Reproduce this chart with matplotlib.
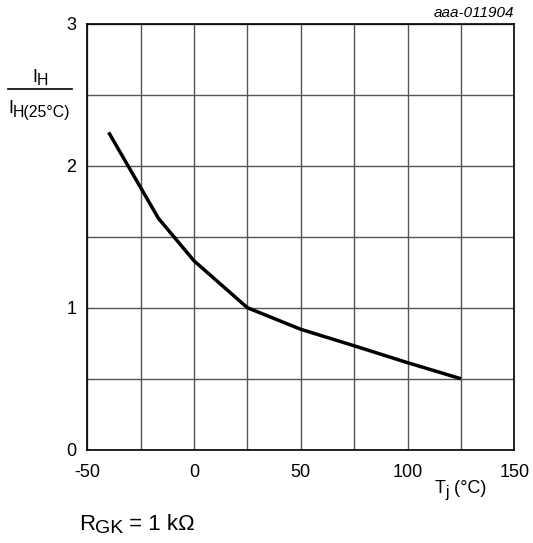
import matplotlib
matplotlib.use('Agg')
import matplotlib.pyplot as plt
from matplotlib.lines import Line2D
from matplotlib.transforms import IdentityTransform

plt.rcParams['font.family'] = ['Liberation Sans', 'DejaVu Sans']
plt.rcParams['axes.unicode_minus'] = False

# Data
tj = [-40, -16.7, 0, 25, 50, 75, 100, 125]
ih_ratio = [2.235, 1.63, 1.33, 1.0, 0.848, 0.732, 0.613, 0.5]

x_ticks = [-50, 0, 50, 100, 150]
y_ticks = [0, 1, 2, 3]

W, H = 533, 543
fig = plt.figure(figsize=(W / 100, H / 100), dpi=100)
ax = fig.add_axes([0.1638, 0.1718, 0.8010, 0.7845])

ax.plot(tj, ih_ratio, color='black', linewidth=2.5, solid_capstyle='butt')

ax.set_xlim(-50, 150)
ax.set_ylim(0, 3)
ax.set_xticks(x_ticks)
ax.set_yticks(y_ticks)
ax.set_xticks(range(-50, 151, 25), minor=True)
ax.set_yticks([0.5 * i for i in range(7)], minor=True)
ax.grid(True, which='both', color='#555555', linewidth=1.0)
ax.tick_params(which='both', length=0, labelsize=13)
ax.tick_params(axis='x', pad=10)
ax.tick_params(axis='y', pad=8)
for sp in ax.spines.values():
    sp.set_linewidth(1.2)
    sp.set_color('black')

renderer = fig.canvas.get_renderer()


def rich_text(x, y, parts, size=13, subsize=11.4, drop=3.7):
    # parts: list of (text, is_subscript); x, y = left / baseline in pixels from top-left
    for txt, is_sub in parts:
        t = fig.text(x, H - y - (drop if is_sub else 0), txt, transform=IdentityTransform(),
                     ha='left', va='baseline', fontsize=subsize if is_sub else size)
        x += t.get_window_extent(renderer).width


# y axis label as fraction
rich_text(32, 81.5, [('I', False), ('H', True)])
fig.add_artist(Line2D([8 / W, 72 / W], [1 - 89.3 / H, 1 - 89.3 / H], color='black',
                      linewidth=1.2, transform=fig.transFigure))
rich_text(8, 113, [('I', False), ('H(25°C)', True)])

rich_text(435, 493, [('T', False), ('j', True), (' (°C)', False)])
rich_text(79, 530, [('R', False), ('GK', True), (' = 1 kΩ', False)],
          size=16, subsize=14, drop=3.4)

fig.text(514 / W, 1 - 16.7 / H, 'aaa-011904', ha='right', va='baseline', fontsize=11,
         style='italic')

fig.savefig('out.png', dpi=100)
